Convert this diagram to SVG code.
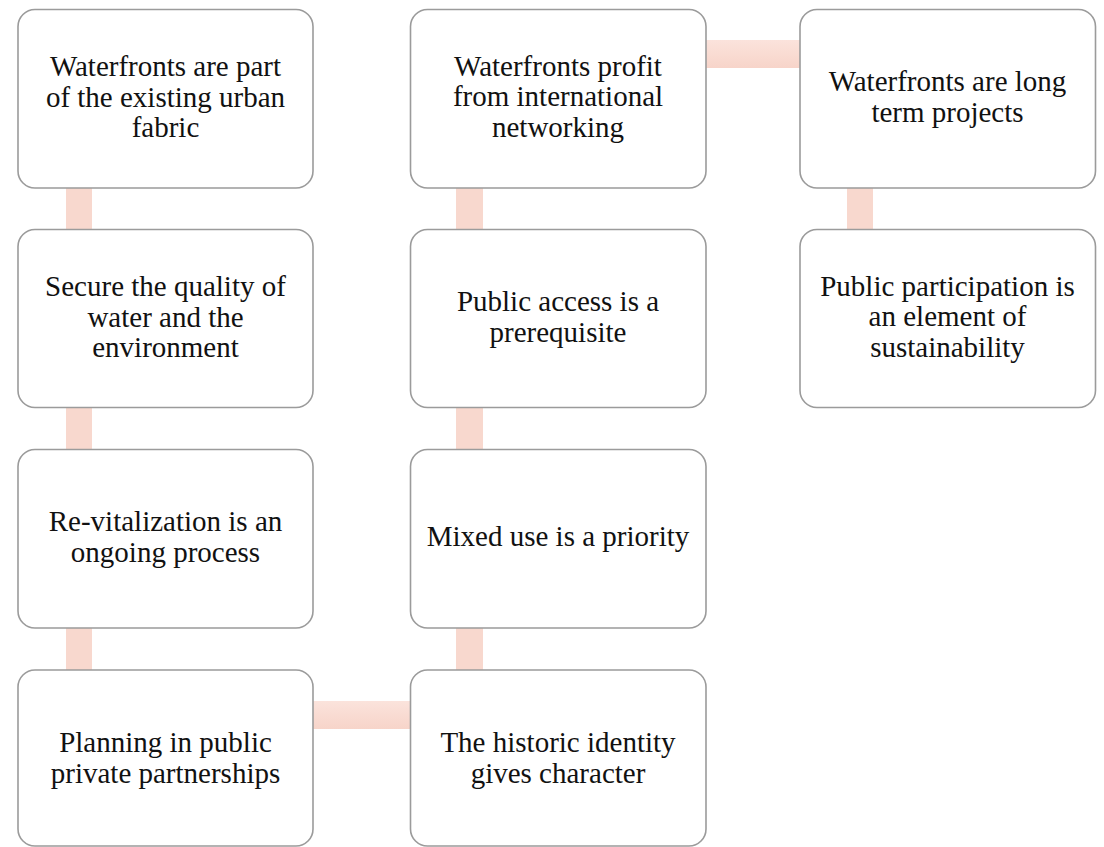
<svg xmlns="http://www.w3.org/2000/svg" width="1104" height="847" viewBox="0 0 1104 847">
<defs>
<linearGradient id="hg" x1="0" y1="0" x2="0" y2="1">
<stop offset="0" stop-color="#fbe3dc"/>
<stop offset="1" stop-color="#f7d4c9"/>
</linearGradient>
<style>
.box{fill:#ffffff;stroke:#9b9b9b;stroke-width:1.6}
.vc{fill:#f8d8ce}
.hc{fill:url(#hg)}
text{font-family:"Liberation Serif","Times New Roman",serif;font-size:29px;fill:#111111;text-anchor:middle}
</style>
</defs>
<rect width="1104" height="847" fill="#ffffff"/>
<g id="connectors">
<rect class="vc" x="66" y="188" width="26" height="41"/>
<rect class="vc" x="66" y="407" width="26" height="42"/>
<rect class="vc" x="66" y="628" width="26" height="42"/>
<rect class="hc" x="313" y="701" width="97" height="28"/>
<rect class="vc" x="456" y="628" width="27" height="42"/>
<rect class="vc" x="456" y="407" width="27" height="42"/>
<rect class="vc" x="456" y="188" width="27" height="41"/>
<rect class="hc" x="706" y="40" width="94" height="28"/>
<rect class="vc" x="847" y="188" width="26" height="41"/>
</g>
<g id="n1">
<rect class="box" x="18" y="9.5" width="295" height="178.5" rx="17"/>
<text x="165.5" y="76">Waterfronts are part</text>
<text x="165.5" y="106.5">of the existing urban</text>
<text x="165.5" y="137">fabric</text>
</g>
<g id="n2">
<rect class="box" x="18" y="229.5" width="295" height="178" rx="17"/>
<text x="165.5" y="296">Secure the quality of</text>
<text x="165.5" y="326.5">water and the</text>
<text x="165.5" y="357">environment</text>
</g>
<g id="n3">
<rect class="box" x="18" y="449.5" width="295" height="178.5" rx="17"/>
<text x="165.5" y="531">Re-vitalization is an</text>
<text x="165.5" y="561.5">ongoing process</text>
</g>
<g id="n4">
<rect class="box" x="18" y="670" width="295" height="176" rx="17"/>
<text x="165.5" y="752">Planning in public</text>
<text x="165.5" y="782.5">private partnerships</text>
</g>
<g id="n5">
<rect class="box" x="410.5" y="670" width="295.5" height="176" rx="17"/>
<text x="558" y="752">The historic identity</text>
<text x="558" y="782.5">gives character</text>
</g>
<g id="n6">
<rect class="box" x="410.5" y="449.5" width="295.5" height="178.5" rx="17"/>
<text x="558" y="546">Mixed use is a priority</text>
</g>
<g id="n7">
<rect class="box" x="410.5" y="229.5" width="295.5" height="178" rx="17"/>
<text x="558" y="311">Public access is a</text>
<text x="558" y="341.5">prerequisite</text>
</g>
<g id="n8">
<rect class="box" x="410.5" y="9.5" width="295.5" height="178.5" rx="17"/>
<text x="558" y="75.5">Waterfronts profit</text>
<text x="558" y="106">from international</text>
<text x="558" y="136.5">networking</text>
</g>
<g id="n9">
<rect class="box" x="800" y="9.5" width="295.5" height="178.5" rx="17"/>
<text x="947.5" y="91">Waterfronts are long</text>
<text x="947.5" y="121.5">term projects</text>
</g>
<g id="n10">
<rect class="box" x="800" y="229.5" width="295.5" height="178" rx="17"/>
<text x="947.5" y="295.5">Public participation is</text>
<text x="947.5" y="326">an element of</text>
<text x="947.5" y="356.5">sustainability</text>
</g>
</svg>
